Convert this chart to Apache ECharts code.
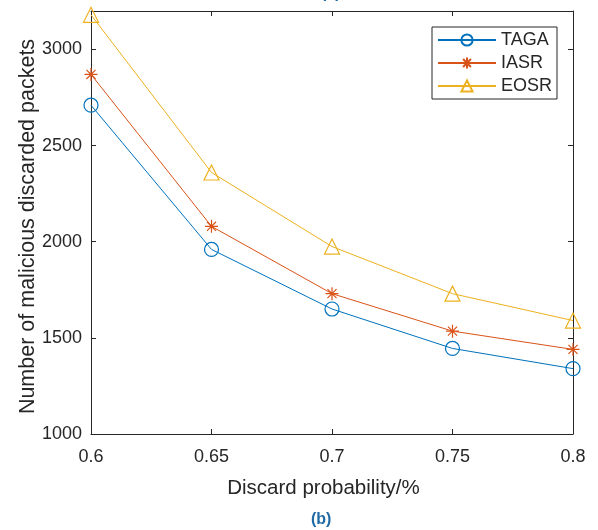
<!DOCTYPE html>
<html>
<head>
<meta charset="utf-8">
<script src="https://cdn.jsdelivr.net/npm/echarts@6/dist/echarts.min.js"></script>
<style>
  html, body { margin: 0; padding: 0; background: #fff; }
  #chart { width: 598px; height: 530px; }
</style>
</head>
<body>
<div id="chart"></div>
<script>
// discard probability (x)
var xValues = [0.6, 0.65, 0.7, 0.75, 0.8]
// malicious discarded packets
var tagaData = [2710, 1960, 1650, 1445, 1340]
var iasrData = [2870, 2080, 1730, 1535, 1440]
var eosrData = [3180, 2360, 1975, 1730, 1590]
var seriesNames = ['TAGA', 'IASR', 'EOSR']

var textColor = '#262626'
var font = 'Liberation Sans, Arial, sans-serif'
// matlab style markers, outline only
var circlePath = 'path://M10,5A5,5,0,1,1,0,5A5,5,0,1,1,10,5Z'
var starPath = 'path://M5,0L5,10M0,5L10,5M1.5,1.5L8.5,8.5M1.5,8.5L8.5,1.5'
var trianglePath = 'path://M5,0L10,9L0,9Z'

function pairs(ys) {
  return ys.map(function(y, i) { return [xValues[i], y] })
}

function makeSeries(name, data, color, symbol, size) {
  return {
    name: name,
    type: 'line',
    data: pairs(data),
    symbol: symbol,
    symbolSize: size,
    showAllSymbol: true,
    clip: false,
    lineStyle: { color: color, width: 1 },
    itemStyle: { color: 'rgba(255,255,255,0)', borderColor: color, borderWidth: 1.2 },
    emphasis: { disabled: true },
    animation: false
  }
}

var chart = echarts.init(document.getElementById('chart'))
chart.setOption({
  backgroundColor: '#fff',
  textStyle: { fontFamily: font },
  title: {
    text: '(b)',
    left: 311,
    top: 512,
    padding: 0,
    textStyle: { color: '#1f6aa5', fontSize: 16, fontWeight: 'bold', fontFamily: font }
  },
  graphic: [{
    type: 'text',
    left: 321,
    top: -14,
    style: { text: '(a)', fill: '#1f6aa5', fontSize: 16, fontWeight: 'bold', fontFamily: font }
  }],
  grid: { left: 91, right: 25, top: 11, bottom: 96 },
  legend: {
    orient: 'vertical',
    left: 432,
    top: 27,
    padding: [4, 5, 4, 5],
    itemGap: 5,
    itemWidth: 58,
    itemHeight: 14,
    backgroundColor: '#fff',
    borderColor: textColor,
    borderWidth: 1,
    borderRadius: 0,
    data: seriesNames,
    textStyle: { color: textColor, fontSize: 18, fontFamily: font, padding: [0, 0, 0, 0] }
  },
  xAxis: [{
    type: 'value',
    min: 0.6,
    max: 0.8,
    interval: 0.05,
    name: 'Discard probability/%',
    nameLocation: 'middle',
    nameGap: 44,
    nameTextStyle: { color: textColor, fontSize: 20.5, fontFamily: font, padding: [0, 17, 0, 0] },
    axisLine: { onZero: false, lineStyle: { color: textColor, width: 1 } },
    axisTick: { inside: true, length: 5, lineStyle: { color: textColor } },
    axisLabel: {
      color: textColor, fontSize: 18, margin: 14, fontFamily: font,
      formatter: function(v) { return String(+v.toFixed(2)) }
    },
    splitLine: { show: false }
  }, {
    type: 'value',
    position: 'top',
    min: 0.6,
    max: 0.8,
    interval: 0.05,
    axisLine: { onZero: false, lineStyle: { color: textColor, width: 1 } },
    axisTick: { inside: true, length: 5, lineStyle: { color: textColor } },
    axisLabel: { show: false },
    splitLine: { show: false }
  }],
  yAxis: [{
    type: 'value',
    min: 1000,
    max: 3200,
    interval: 500,
    name: 'Number of malicious discarded packets',
    nameLocation: 'middle',
    nameGap: 52,
    nameMoveOverlap: false,
    nameTextStyle: { color: textColor, fontSize: 21.5, fontFamily: font, padding: [0, 8, 0, 0] },
    axisLine: { show: true, onZero: false, lineStyle: { color: textColor, width: 1 } },
    axisTick: { show: true, inside: true, length: 5, lineStyle: { color: textColor } },
    axisLabel: {
      color: textColor, fontSize: 18, margin: 9, fontFamily: font, showMaxLabel: false,
      formatter: function(v) { return String(v) }
    },
    splitLine: { show: false }
  }, {
    type: 'value',
    position: 'right',
    min: 1000,
    max: 3200,
    interval: 500,
    axisLine: { show: true, onZero: false, lineStyle: { color: textColor, width: 1 } },
    axisTick: { show: true, inside: true, length: 5, lineStyle: { color: textColor } },
    axisLabel: { show: false },
    splitLine: { show: false }
  }],
  series: [
    makeSeries('TAGA', tagaData, '#0072BD', circlePath, 14),
    makeSeries('IASR', iasrData, '#D95319', starPath, 13),
    makeSeries('EOSR', eosrData, '#EDB120', trianglePath, 15)
  ]
})
</script>
</body>
</html>
